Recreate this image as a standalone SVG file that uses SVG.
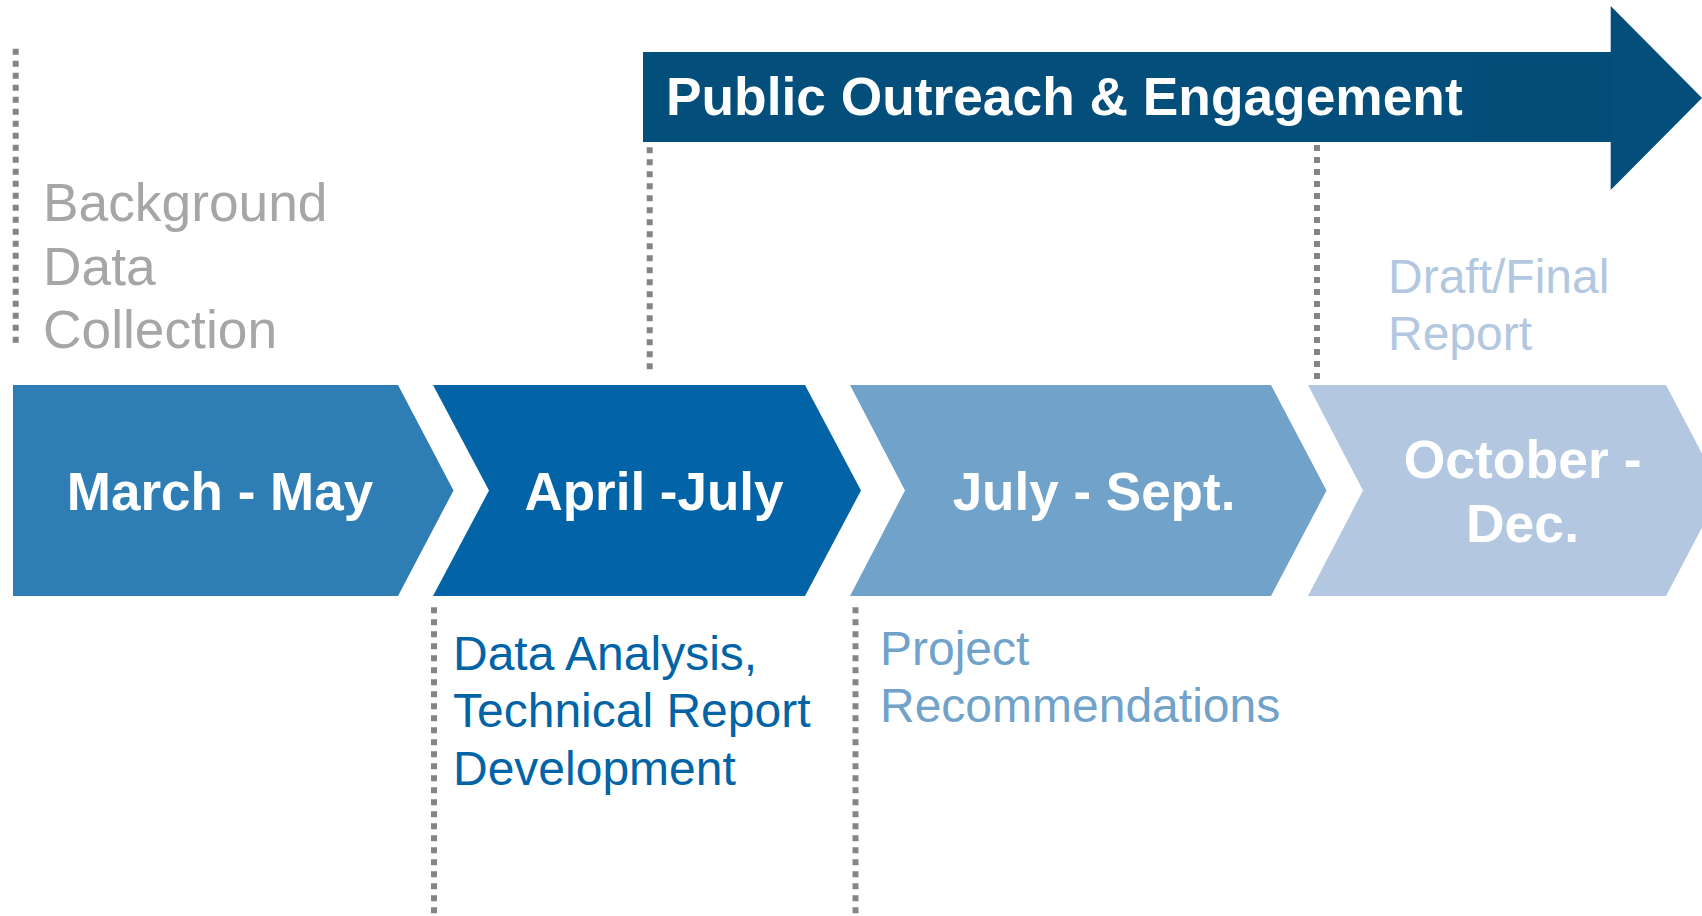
<svg xmlns="http://www.w3.org/2000/svg" width="1702" height="916" viewBox="0 0 1702 916">
  <style>
    .bold { font-family: "Liberation Sans", Arial, sans-serif; font-weight: bold; fill: #ffffff; }
    .reg { font-family: "Liberation Sans", Arial, sans-serif; }
    .dot { stroke: #858585; stroke-width: 6; stroke-dasharray: 6 6; fill: none; }
  </style>
  <rect width="1702" height="916" fill="#ffffff"/>

  <g id="connectors">
    <line class="dot" x1="15.7" y1="48.7" x2="15.7" y2="346"/>
    <line class="dot" x1="649.7" y1="147.3" x2="649.7" y2="372"/>
    <line class="dot" x1="1317" y1="145" x2="1317" y2="381"/>
    <line class="dot" x1="434" y1="607.3" x2="434" y2="916"/>
    <line class="dot" x1="855.5" y1="607.3" x2="855.5" y2="916"/>
  </g>

  <g id="outreach">
    <polygon points="643,52 1610.7,52 1610.7,6 1702,98 1610.7,190 1610.7,142 643,142" fill="#034E7A"/>
    <rect x="1472" y="56.5" width="139" height="81" fill="#034D79" stroke="#03497A" stroke-width="1"/>
    <text class="bold" x="666" y="115" font-size="53.3">Public Outreach &amp; Engagement</text>
  </g>

  <g id="background">
    <text class="reg" fill="#A6A6A8" font-size="53.3">
      <tspan x="43" y="221">Background</tspan>
      <tspan x="43" y="285">Data</tspan>
      <tspan x="43" y="348">Collection</tspan>
    </text>
  </g>

  <g id="march-may">
    <polygon points="13,385 398,385 453.5,490.5 398,596 13,596" fill="#2E7DB5"/>
    <text class="bold" x="220" y="510" font-size="53" text-anchor="middle">March - May</text>
  </g>

  <g id="april-july">
    <polygon points="433,385 805,385 861,490.5 805,596 433,596 489,490.5" fill="#0264A6"/>
    <text class="bold" x="654" y="510" font-size="53" text-anchor="middle">April -July</text>
  </g>

  <g id="july-sept">
    <polygon points="850,385 1271,385 1326.5,490.5 1271,596 850,596 905,490.5" fill="#71A2C9"/>
    <text class="bold" x="1094" y="510" font-size="53" text-anchor="middle">July - Sept.</text>
  </g>

  <g id="october-dec">
    <polygon points="1308,385 1666,385 1721.5,490.5 1666,596 1308,596 1363,490.5" fill="#B3C8E0"/>
    <text class="bold" font-size="53.5" text-anchor="middle">
      <tspan x="1530" y="478">October -</tspan>
      <tspan x="1522.5" y="542">Dec.</tspan>
    </text>
  </g>

  <g id="data-analysis">
    <text class="reg" fill="#0264A6" font-size="48">
      <tspan x="453" y="670">Data Analysis,</tspan>
      <tspan x="453" y="727">Technical Report</tspan>
      <tspan x="453" y="785">Development</tspan>
    </text>
  </g>

  <g id="project-recommendations">
    <text class="reg" fill="#71A2C9" font-size="48">
      <tspan x="880" y="665">Project</tspan>
      <tspan x="880" y="722">Recommendations</tspan>
    </text>
  </g>

  <g id="draft-final">
    <text class="reg" fill="#B3C8E0" font-size="48">
      <tspan x="1388" y="293">Draft/Final</tspan>
      <tspan x="1388" y="350">Report</tspan>
    </text>
  </g>
</svg>
